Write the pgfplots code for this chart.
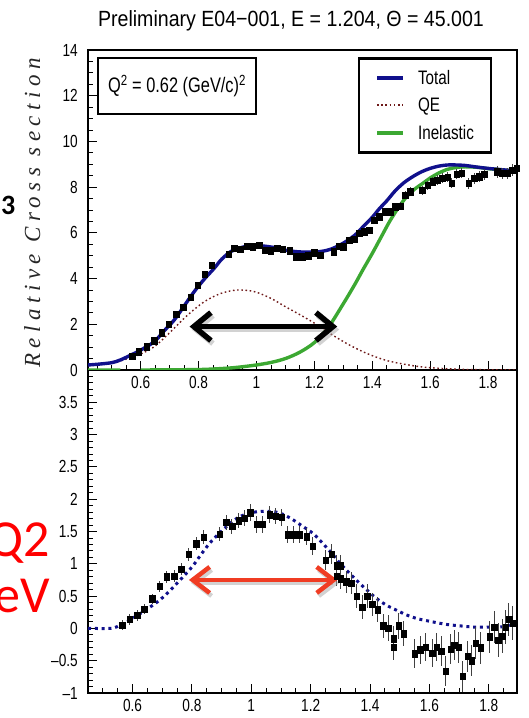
\documentclass[border=0pt]{standalone}
\usepackage{pgfplots}
\pgfplotsset{compat=1.18}
\usetikzlibrary{arrows.meta}
\usepackage{fontspec}
\setmainfont{Liberation Sans}
\newfontfamily\cond{Liberation Sans}[FakeStretch=0.78]
\newfontfamily\condt{Liberation Sans}[FakeStretch=0.89]
\newfontfamily\serifit{Liberation Serif}[LetterSpace=24]
\newfontfamily\calib{Carlito}
\definecolor{totblue}{RGB}{16,16,140}
\definecolor{inelgreen}{RGB}{60,168,50}
\definecolor{qebrown}{RGB}{110,25,25}
\definecolor{arrred}{RGB}{240,60,35}
\definecolor{qred}{RGB}{255,0,0}

\pgfplotstableread{
x y e
0.570 0.61 0.08
0.593 0.80 0.08
0.621 1.02 0.08
0.647 1.28 0.09
0.672 1.63 0.09
0.697 2.01 0.10
0.722 2.45 0.10
0.747 2.74 0.10
0.772 3.18 0.11
0.797 3.72 0.11
0.822 4.20 0.12
0.846 4.59 0.12
0.905 5.07 0.12
0.923 5.32 0.12
0.944 5.28 0.12
0.967 5.42 0.12
0.987 5.39 0.12
1.009 5.47 0.12
1.030 5.25 0.12
1.050 5.22 0.12
1.072 5.32 0.12
1.091 5.28 0.12
1.114 5.22 0.12
1.137 4.96 0.12
1.158 4.96 0.12
1.178 5.00 0.12
1.199 5.13 0.12
1.220 5.03 0.12
1.266 5.18 0.13
1.284 5.42 0.13
1.300 5.39 0.13
1.321 5.69 0.14
1.337 5.72 0.14
1.355 5.98 0.14
1.372 6.05 0.15
1.390 6.12 0.15
1.407 6.56 0.16
1.424 6.71 0.16
1.445 6.92 0.17
1.462 6.92 0.17
1.479 7.14 0.18
1.497 7.17 0.18
1.514 7.66 0.19
1.531 7.80 0.19
1.573 7.87 0.20
1.591 8.09 0.20
1.608 8.24 0.20
1.625 8.31 0.20
1.642 8.39 0.22
1.660 8.43 0.22
1.675 8.17 0.22
1.692 8.57 0.22
1.709 8.60 0.22
1.734 8.17 0.24
1.752 8.39 0.24
1.769 8.46 0.24
1.786 8.57 0.24
1.832 8.67 0.25
1.849 8.60 0.25
1.867 8.60 0.25
1.884 8.75 0.25
1.898 8.82 0.25
}\topdata

\pgfplotstableread{
x y
0.418 0.22
0.45 0.25
0.50 0.32
0.53 0.44
0.567 0.66
0.60 0.87
0.647 1.24
0.68 1.70
0.716 2.19
0.75 2.80
0.785 3.43
0.82 3.98
0.854 4.45
0.88 4.85
0.911 5.18
0.94 5.33
0.969 5.42
1.00 5.45
1.027 5.42
1.06 5.36
1.09 5.27
1.12 5.20
1.16 5.16
1.20 5.16
1.23 5.20
1.26 5.30
1.30 5.55
1.34 5.90
1.367 6.25
1.40 6.68
1.424 7.05
1.45 7.40
1.48 7.85
1.51 8.20
1.54 8.46
1.57 8.67
1.60 8.82
1.63 8.92
1.66 8.97
1.69 8.97
1.72 8.95
1.76 8.88
1.80 8.82
1.85 8.76
1.90 8.70
}\total

\pgfplotstableread{
x y
0.418 0.0
0.53 0.0
0.55 nan
0.60 0.0
0.80 0.02
0.90 0.08
0.95 0.14
1.00 0.22
1.05 0.33
1.10 0.50
1.15 0.78
1.20 1.20
1.25 1.90
1.30 2.90
1.34 3.75
1.367 4.37
1.40 5.10
1.43 5.80
1.46 6.50
1.49 7.10
1.52 7.60
1.55 7.95
1.573 8.15
1.60 8.40
1.63 8.62
1.66 8.78
1.69 8.86
1.72 8.89
1.76 8.87
1.80 8.81
1.85 8.75
1.90 8.69
}\inel

\pgfplotstableread{
x y
0.418 0.21
0.47 0.26
0.52 0.36
0.56 0.52
0.59 0.64
0.647 1.02
0.704 1.68
0.762 2.40
0.82 2.99
0.877 3.35
0.934 3.50
0.992 3.43
1.049 3.14
1.10 2.77
1.15 2.42
1.20 2.05
1.26 1.55
1.32 1.10
1.38 0.73
1.44 0.45
1.49 0.30
1.55 0.17
1.60 0.10
1.70 0.03
1.80 0.01
1.90 0.00
}\qe

\pgfplotstableread{
x y e
0.565 0.05 0.08
0.591 0.14 0.08
0.616 0.20 0.08
0.640 0.30 0.08
0.666 0.46 0.08
0.691 0.65 0.09
0.716 0.80 0.09
0.740 0.81 0.09
0.764 0.92 0.10
0.790 1.15 0.10
0.815 1.31 0.10
0.840 1.41 0.11
0.894 1.46 0.11
0.915 1.64 0.12
0.935 1.58 0.12
0.957 1.67 0.12
0.977 1.71 0.12
0.997 1.79 0.13
1.019 1.61 0.13
1.039 1.61 0.13
1.062 1.76 0.13
1.082 1.74 0.13
1.103 1.72 0.13
1.123 1.45 0.13
1.143 1.45 0.13
1.164 1.45 0.13
1.186 1.42 0.13
1.206 1.27 0.14
1.251 1.06 0.15
1.270 1.15 0.15
1.287 0.97 0.16
1.302 0.97 0.16
1.287 0.81 0.16
1.302 0.77 0.16
1.320 0.72 0.17
1.337 0.70 0.17
1.356 0.50 0.18
1.374 0.33 0.18
1.390 0.50 0.18
1.408 0.37 0.18
1.425 0.29 0.19
1.444 0.04 0.19
1.461 0.00 0.20
1.480 -0.16 0.20
1.480 -0.29 0.20
1.496 0.04 0.20
1.513 -0.08 0.20
1.551 -0.39 0.22
1.569 -0.33 0.22
1.588 -0.29 0.22
1.610 -0.38 0.22
1.625 -0.29 0.22
1.640 -0.35 0.23
1.655 -0.66 0.23
1.671 -0.32 0.23
1.684 -0.26 0.23
1.698 -0.29 0.24
1.713 -0.74 0.24
1.728 -0.43 0.24
1.742 -0.50 0.24
1.756 -0.23 0.25
1.772 -0.30 0.25
1.803 -0.13 0.25
1.818 0.02 0.25
1.831 -0.18 0.26
1.845 -0.12 0.26
1.856 0.02 0.26
1.868 0.14 0.26
1.881 0.08 0.26
}\botdata

\pgfplotstableread{
x y
0.45 0.0
0.524 0.0
0.55 0.03
0.58 0.10
0.636 0.26
0.692 0.44
0.744 0.67
0.80 0.95
0.827 1.12
0.86 1.32
0.894 1.48
0.93 1.63
0.961 1.73
1.00 1.79
1.029 1.81
1.06 1.81
1.085 1.80
1.11 1.76
1.141 1.68
1.17 1.59
1.208 1.47
1.24 1.32
1.275 1.14
1.30 1.00
1.332 0.85
1.36 0.72
1.388 0.60
1.42 0.47
1.455 0.36
1.49 0.28
1.522 0.21
1.56 0.15
1.612 0.10
1.66 0.06
1.702 0.04
1.75 0.02
1.80 0.02
1.837 0.02
1.87 0.05
1.895 0.08
}\botfit

\pgfplotsset{
  rootax/.style={
    scale only axis, width=429pt, anchor=south west,
    axis line style={line width=1.7pt},
    tick align=inside, tick pos=left,
    major tick length=9pt, minor tick length=5pt,
    every tick/.style={black, line width=0.9pt},
    tick label style={font=\cond\fontsize{17.5}{17.5}\selectfont, black},
    xticklabel style={inner sep=0pt, yshift=-6pt},
    yticklabel style={inner sep=0pt, xshift=-10pt},
    xtick={0.6,0.8,1,1.2,1.4,1.6,1.8},
    xticklabels={0.6,0.8,1,1.2,1.4,1.6,1.8},
    minor xtick={0.45,0.5,0.55,0.65,0.7,0.75,0.85,0.9,0.95,1.05,1.1,1.15,1.25,1.3,1.35,1.45,1.5,1.55,1.65,1.7,1.75,1.85},
    clip=true,
  },
  errstyle/.style={only marks, mark=square*, mark size=3.2pt,
    mark options={black, xscale=0.85},
    error bars/.cd, y dir=both, y explicit, error mark=none,
    error bar style={line width=1pt, black!75}},
}

\begin{document}
\begin{tikzpicture}[x=1pt,y=1pt]
\useasboundingbox (0,0) rectangle (529,718);

% ---------------- bottom panel ----------------
\begin{axis}[rootax, at={(88pt,25pt)}, height=323pt,
  xmin=0.45, xmax=1.895, ymin=-1, ymax=4,
  ytick={-1,-0.5,0,0.5,1,1.5,2,2.5,3,3.5},
  yticklabels={\textendash1,\textendash0.5,0,0.5,1,1.5,2,2.5,3,3.5},
  minor ytick={-0.9,-0.8,-0.7,-0.6,-0.4,-0.3,-0.2,-0.1,0.1,0.2,0.3,0.4,0.6,0.7,0.8,0.9,1.1,1.2,1.3,1.4,1.6,1.7,1.8,1.9,2.1,2.2,2.3,2.4,2.6,2.7,2.8,2.9,3.1,3.2,3.3,3.4,3.6,3.7,3.8,3.9},
]
\addplot[totblue, line width=3pt, dash pattern=on 3pt off 3.8pt, smooth] table[x=x,y=y] {\botfit};
\addplot[errstyle] table[x=x,y=y,y error=e] {\botdata};
\draw[black, line width=3pt] (axis cs:1.895,-0.45) -- (axis cs:1.895,0.67);
\draw[black!35, opacity=0.5, line width=4.5pt,
  {Straight Barb[length=17pt,width=26pt]}-{Straight Barb[length=17pt,width=26pt]}]
  ([xshift=2pt,yshift=-3pt]axis cs:0.79,0.75) -- ([xshift=2pt,yshift=-3pt]axis cs:1.29,0.75);
\draw[arrred, line width=4.5pt,
  {Straight Barb[length=17pt,width=26pt]}-{Straight Barb[length=17pt,width=26pt]}]
  (axis cs:0.79,0.75) -- (axis cs:1.29,0.75);
\end{axis}

% ---------------- top panel ----------------
\begin{axis}[rootax, at={(88pt,348pt)}, height=320pt,
  xmin=0.418, xmax=1.9, ymin=0, ymax=14,
  ytick={0,2,4,6,8,10,12,14},
  yticklabels={0,2,4,6,8,10,12,14},
  minor ytick={0.5,1,1.5,2.5,3,3.5,4.5,5,5.5,6.5,7,7.5,8.5,9,9.5,10.5,11,11.5,12.5,13,13.5},
  unbounded coords=jump,
  reverse legend,
  legend image code/.code={\draw[#1, line width=4pt] (0pt,0pt) -- (26pt,0pt);},
  legend style={at={(0.629,0.978)}, anchor=north west, draw=black,
    line width=2.5pt, fill=white, inner xsep=16pt, inner ysep=11pt,
    row sep=10pt, column sep=12pt,
    font=\cond\fontsize{19.5}{19.5}\selectfont,
    nodes={font=\cond\fontsize{19.5}{19.5}\selectfont, inner sep=1pt}},
  legend cell align=left,
]
\addplot[inelgreen, line width=3.4pt, smooth] table[x=x,y=y] {\inel};
\addlegendentry{Inelastic}
\addplot[qebrown, line width=1.4pt, dash pattern=on 1.6pt off 2.6pt, smooth,
  legend image code/.code={\draw[qebrown, line width=2pt] (0pt,0pt) -- (26pt,0pt);}]
  table[x=x,y=y] {\qe};
\addlegendentry{QE}
\addplot[totblue, line width=3.4pt, smooth] table[x=x,y=y] {\total};
\addlegendentry{Total}
\addplot[forget plot, errstyle] table[x=x,y=y,y error=e] {\topdata};
\draw[black, line width=3pt] (axis cs:1.9,8.44) -- (axis cs:1.9,10.94);
\draw[black!35, opacity=0.5, line width=5.5pt,
  {Straight Barb[length=17pt,width=28pt]}-{Straight Barb[length=17pt,width=28pt]}]
  ([xshift=2pt,yshift=-3pt]axis cs:0.769,1.9) -- ([xshift=2pt,yshift=-3pt]axis cs:1.279,1.9);
\draw[black, line width=5.5pt,
  {Straight Barb[length=17pt,width=28pt]}-{Straight Barb[length=17pt,width=28pt]}]
  (axis cs:0.769,1.9) -- (axis cs:1.279,1.9);
\node[draw=black, line width=2.5pt, fill=white, minimum width=158pt, minimum height=56pt,
  font=\cond\fontsize{21}{21}\selectfont] at (rel axis cs:0.2075,0.8875)
  {Q\textsuperscript{2} = 0.62 (GeV/c)\textsuperscript{2}};
\end{axis}

% ---------------- texts ----------------
\node[font=\condt\fontsize{22}{22}\selectfont, anchor=center] at (291,697)
  {Preliminary E04\textminus001, E = 1.204, Θ = 45.001};
\node[font=\serifit\itshape\fontsize{23}{23}\selectfont, text=black!85, rotate=90,
  anchor=base west, inner sep=0pt] at (40,350) {Relative Cross section};
\node[font=\calib\bfseries\fontsize{28}{28}\selectfont, anchor=base east, inner sep=0pt]
  at (15.5,503) {3};
\node[font=\calib\fontsize{52}{52}\selectfont, text=qred, anchor=base east, inner sep=0pt]
  at (50,161) {Q2};
\node[font=\calib\fontsize{52}{52}\selectfont, text=qred, anchor=base east, inner sep=0pt]
  at (50,105) {eV};
\end{tikzpicture}
\end{document}
